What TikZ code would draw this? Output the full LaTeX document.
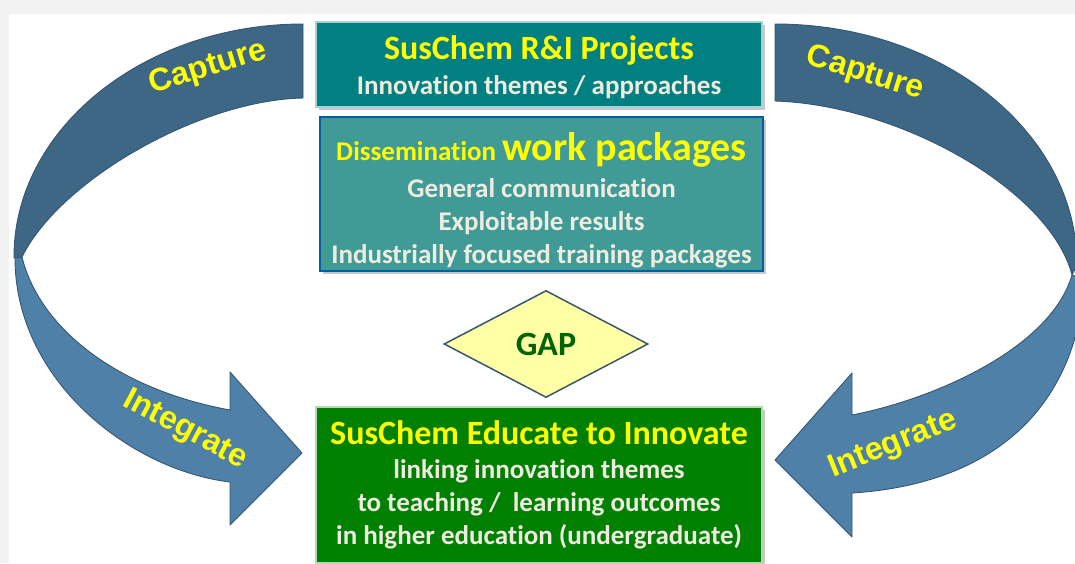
\documentclass[tikz,border=0pt]{standalone}
\usepackage{fontspec}
\setmainfont{Carlito}[Ligatures=NoCommon]
\newfontfamily\arialf{Liberation Sans}
\usetikzlibrary{shapes.geometric,shadows}
\definecolor{bg}{RGB}{242,242,242}
\definecolor{tealA}{RGB}{0,128,128}
\definecolor{tealB}{RGB}{64,155,150}
\definecolor{greenC}{RGB}{0,128,0}
\definecolor{yel}{RGB}{255,255,0}
\definecolor{ltxt}{RGB}{238,236,225}
\definecolor{bandD}{RGB}{62,102,133}
\definecolor{bandL}{RGB}{79,129,168}
\definecolor{bandE}{RGB}{52,86,118}
\definecolor{diaF}{RGB}{255,255,166}
\definecolor{diaE}{RGB}{60,85,110}
\definecolor{gapT}{RGB}{0,100,0}
\tikzset{
  shad/.style={drop shadow={shadow xshift=3pt,shadow yshift=-3pt,fill=black!22,opacity=1}},
  box/.style={rectangle, shad, align=center, inner sep=0pt, text=ltxt,
    font=\bfseries\fontsize{27}{33}\selectfont, line width=1.2pt},
  band/.style={draw=bandE, line width=0.9pt, line join=round},
  arrlbl/.style={text=yel, font=\arialf\bfseries\fontsize{32}{32}\selectfont, inner sep=0pt},
}
\begin{document}
\begin{tikzpicture}[x=1pt,y=-1pt]
\useasboundingbox (0,0) rectangle (1075,563);
\clip (0,0) rectangle (1075,563);
\fill[bg] (0,0) rectangle (1075,563);
\fill[white] (9,14) rectangle (1075,563);

% left ribbon arrow
\path[band, fill=bandD] (303,24) .. controls (143,24) and (13,130) .. (14,258)
  -- (22,257) .. controls (60,180) and (200,100) .. (303,98) -- cycle;
\path[band, fill=bandL] (15,258) .. controls (15,380) and (130,470) .. (230,482)
  -- (230,525) -- (302,453) -- (230,372) -- (230,410)
  .. controls (120,390) and (40,330) .. (22,257) -- cycle;

% right ribbon arrow
\path[band, fill=bandD] (775,24) .. controls (942,24) and (1077,132) .. (1077,265)
  -- (1072,275) .. controls (1050,190) and (900,105) .. (775,101) -- cycle;
\path[band, fill=bandL] (1072,275) .. controls (1050,350) and (930,400) .. (852,415)
  -- (852,373) -- (775,460) -- (852,537) -- (852,493)
  .. controls (980,485) and (1075,420) .. (1085,280) -- cycle;

\node[arrlbl, rotate=17] (capL) at (208,68) {Capture};
\node[arrlbl, rotate=-17] (capR) at (865,74) {Capture};
\node[arrlbl, rotate=-28] (intL) at (185,430) {Integrate};
\node[arrlbl, rotate=22] (intR) at (893,445) {Integrate};

% boxes
\node[box, fill=tealA, draw=white!65!tealA, minimum width=446pt, minimum height=85pt]
  (proj) at (539,64.5)
  {\textcolor{yel}{\fontsize{34}{33}\selectfont\rule{0pt}{30pt}SusChem R\&I Projects}\\[2pt]
   Innovation themes / approaches};

\node[box, fill=tealB, draw=tealA!75!blue, minimum width=443pt, minimum height=154pt]
  (diss) at (541.5,194)
  {\textcolor{yel}{\fontsize{27}{33}\selectfont\rule{0pt}{40pt}Dissemination \fontsize{40}{33}\selectfont work packages}\\[4pt]
   General communication\\
   Exploitable results\\
   Industrially focused training packages};

\node[diamond, draw=diaE, fill=diaF, line width=1.5pt, minimum width=204pt,
  minimum height=107pt, inner sep=0pt, text=gapT, font=\bfseries\fontsize{34}{34}\selectfont]
  (gap) at (546,344) {GAP};

\node[box, fill=greenC, draw=white!70!greenC, minimum width=446pt, minimum height=156pt]
  (edu) at (539,485)
  {\textcolor{yel}{\fontsize{34}{33}\selectfont SusChem Educate to Innovate}\\[1pt]
   linking innovation themes\\
   to teaching /\ \ learning outcomes\\
   in higher education (undergraduate)};
\end{tikzpicture}
\end{document}
